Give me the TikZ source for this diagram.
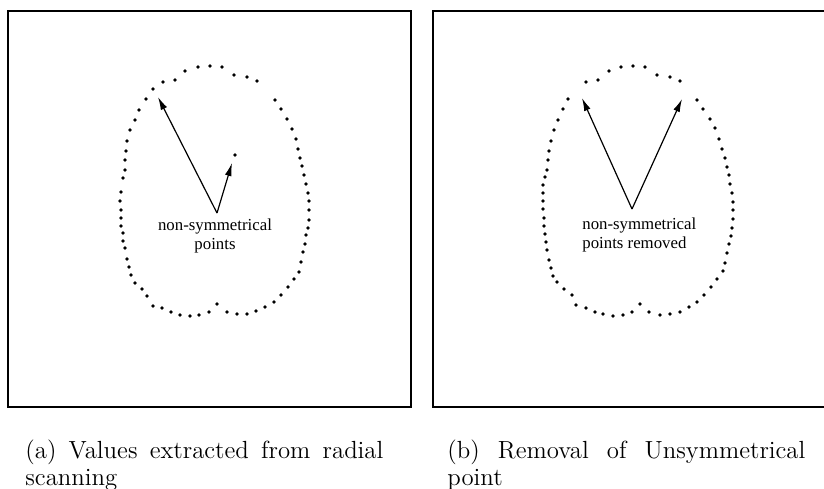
\documentclass[tikz,border=0pt]{standalone}
\usepackage{fontspec}
\newfontfamily\notefont{Liberation Serif}
\usetikzlibrary{arrows.meta}

\begin{document}
\begin{tikzpicture}[
  x=0.5pt, y=-0.5pt,
  framebox/.style={draw, line width=0.6pt},
  dotmark/.style={fill=black},
  arr/.style={-{Latex[length=6.5pt, width=3.4pt]}, line width=0.6pt},
  note/.style={font=\notefont\fontsize{8.4}{9.5}\selectfont, inner sep=0pt},
  capt/.style={font=\fontsize{12.4}{13.5}\selectfont, text width=179pt, align=justify, inner sep=0pt, anchor=north west},
]
  \useasboundingbox (0,0) rectangle (824,488);

  % Frames
  \draw[framebox] (8,11) rectangle (411,407);
  \draw[framebox] (433,11) rectangle (827,407);

  % Dots, panel (a)
  \foreach \x/\y in {210/66, 198/67, 185/71, 175/80, 163/82, 153/89, 146/99, 139/110, 135/120,
      130/130, 127/141, 126/151, 125/160, 125/170, 123/178, 121/192, 120/201, 121/210,
      121/218, 121/226, 123/233, 123/241, 125/248, 127/259, 129/267, 131/275, 135/283,
      142/289, 147/296, 153/306, 162/308, 171/312, 180/315, 190/316, 199/315, 209/312,
      217/304, 227/312, 237/314, 247/314, 256/311, 265/307, 274/302, 281/295, 288/287,
      294/279, 299/272, 301/262, 303/252, 305/244, 306/235, 308/228, 309/220, 309/210,
      309/201, 308/193, 306/184, 304/175, 302/166, 300/158, 298/149, 296/139, 292/129,
      287/119, 281/109, 275/100, 257/81, 247/77, 234/75, 222/67, 235/155}
    \fill[dotmark] (\x,\y) circle (0.9pt);

  % Dots, panel (b)
  \foreach \x/\y in {633/66, 621/67, 609/71, 598/80, 586/82, 568/99, 563/109, 558/120, 554/130,
      551/141, 549/151, 548/160, 547/170, 545/177, 543/185, 543/193, 543/201, 543/209,
      544/218, 544/226, 545/234, 546/242, 547/250, 549/260, 551/268, 553/276, 557/282,
      564/289, 572/295, 576/305, 586/308, 595/312, 603/314, 613/316, 623/315, 632/312,
      640/304, 649/312, 660/315, 670/314, 680/312, 689/307, 697/302, 704/295, 711/287,
      717/279, 723/271, 725/263, 727/253, 729/244, 731/236, 732/228, 733/219, 733/210,
      733/202, 732/193, 730/184, 729/175, 727/167, 725/158, 722/149, 719/139, 715/128,
      710/119, 703/109, 697/100, 680/81, 670/77, 657/75, 645/67}
    \fill[dotmark] (\x,\y) circle (0.9pt);

  % Arrows, panel (a)
  \coordinate (apexA) at (217,213);
  \coordinate (tipAlong) at (158,97);
  \coordinate (tipAshort) at (232,163);
  \draw[arr] (apexA) -- (tipAlong);
  \draw[arr] (apexA) -- (tipAshort);
  \node[note, align=center, anchor=north] (noteA) at (215,218) {non-symmetrical\\points};

  % Arrows, panel (b)
  \coordinate (apexB) at (632,209);
  \coordinate (tipBleft) at (582,98);
  \coordinate (tipBright) at (682,99);
  \draw[arr] (apexB) -- (tipBleft);
  \draw[arr] (apexB) -- (tipBright);
  \node[note, align=left, anchor=north west] (noteB) at (582,217) {non-symmetrical\\points removed};

  % Captions
  \node[capt] (captA) at (25,439) {(a) Values extracted from radial scanning};
  \node[capt] (captB) at (447,439) {(b) Removal of Unsymmetrical point};

\end{tikzpicture}
\end{document}
